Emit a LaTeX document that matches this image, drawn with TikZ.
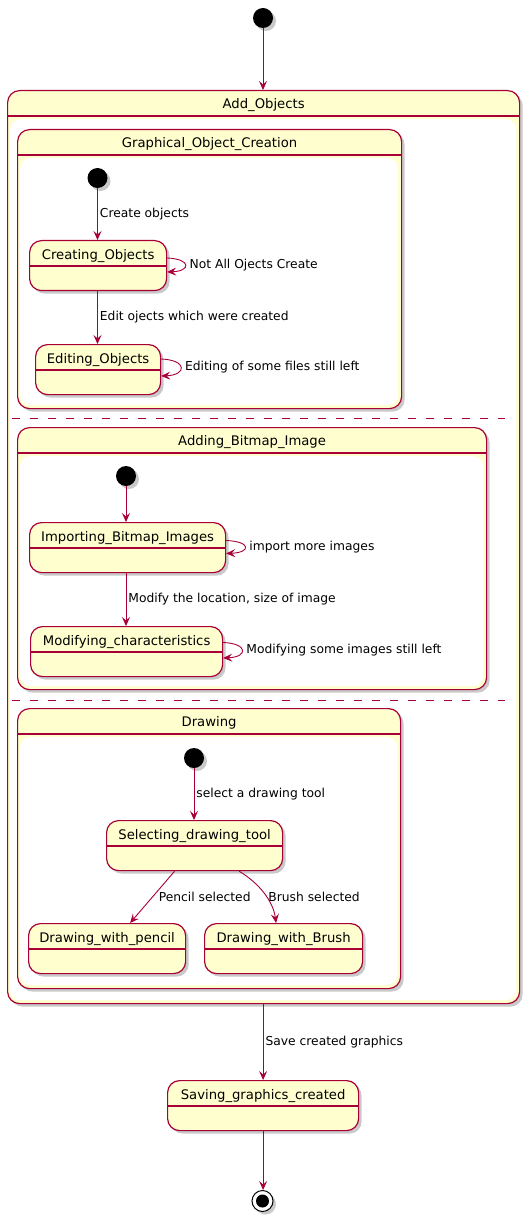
\documentclass[tikz,border=0pt]{standalone}
\usepackage{fontspec}
\setmainfont{DejaVu Sans}
\usetikzlibrary{arrows.meta,shadows}
\definecolor{bd}{HTML}{A80036}
\definecolor{sf}{HTML}{FEFECE}
\tikzset{
 shd/.style={drop shadow={shadow xshift=3pt,shadow yshift=-3pt,opacity=0.35,fill=black!60}},
 stbox/.style={draw=bd,line width=1.2pt,fill=sf,rounded corners=12pt,inner sep=0pt,minimum height=50pt,anchor=north west,shd},
 compbox/.style={draw=bd,line width=1.2pt,fill=sf,rounded corners=12pt,inner sep=0pt,anchor=north west,shd},
 bodybox/.style={fill=white,rounded corners=10pt,inner sep=0pt,anchor=north west},
 divline/.style={draw=bd,line width=1.1pt},
 sttitle/.style={font=\fontsize{13.2}{16}\selectfont,text height=10pt,text depth=3pt,inner sep=0pt},
 lab/.style={font=\fontsize{12.3}{15}\selectfont,inner sep=2pt,text=black},
 arr/.style={draw=bd,line width=0.9pt,-{Stealth[length=9pt,width=8pt,inset=3.5pt]}},
 startdot/.style={circle,fill=black,minimum size=20pt,inner sep=0pt,shd},
 dash8/.style={draw=bd,line width=1pt,dash pattern=on 8pt off 10pt},
}
\newcommand\mkstate[5]{%
 \node[stbox,minimum width=#4pt] (#1) at (#2,#3) {};
 \draw[divline] ([yshift=-26pt]#1.north west) -- ([yshift=-26pt]#1.north east);
 \node[sttitle] (#1-t) at ([yshift=-16pt]#1.north) {#5};}
\newcommand\mkcomp[6]{%
 \node[compbox,minimum width=#4pt,minimum height=#5pt] (#1) at (#2,#3) {};
 \node[bodybox,minimum width=#4pt-6pt,minimum height=#5pt-32pt] (#1-body) at (#2+3,#3+29) {};
 \draw[divline] ([yshift=-26pt]#1.north west) -- ([yshift=-26pt]#1.north east);
 \node[sttitle] (#1-t) at ([yshift=-14.8pt]#1.north) {#6};}
\begin{document}
\begin{tikzpicture}[x=1pt,y=-1pt]
\fill[white] (0,0) rectangle (530,1222);
\useasboundingbox (0,0) rectangle (530,1222);

% top start
\node[startdot] (s0) at (263,18) {};

% Add_Objects composite
\mkcomp{ao}{7}{90}{512}{913}{Add\_Objects}

% Graphical_Object_Creation
\mkcomp{goc}{17}{129}{384}{279}{Graphical\_Object\_Creation}
\node[startdot] (s1) at (97.5,178) {};
\mkstate{co}{29}{240}{137}{Creating\_Objects}
\mkstate{eo}{35}{344}{125}{Editing\_Objects}

\draw[dash8] (12,418) -- (505,418);

% Adding_Bitmap_Image
\mkcomp{abi}{17}{427}{469}{262}{Adding\_Bitmap\_Image}
\node[startdot] (s2) at (126,476) {};
\mkstate{ib}{29}{522}{196}{Importing\_Bitmap\_Images}
\mkstate{mc}{30}{626}{192}{Modifying\_characteristics}

\draw[dash8] (12,700) -- (505,700);

% Drawing
\mkcomp{dr}{17}{708}{383}{280}{Drawing}
\node[startdot] (s3) at (194,758) {};
\mkstate{sdt}{106}{820}{176}{Selecting\_drawing\_tool}
\mkstate{dwp}{28}{923}{157}{Drawing\_with\_pencil}
\mkstate{dwb}{204}{923}{158}{Drawing\_with\_Brush}

% Saving
\mkstate{sgc}{167}{1080}{191}{Saving\_graphics\_created}

% end
\node[circle,draw=black,line width=1pt,fill=white,minimum size=21pt,inner sep=0pt,shd] (e0) at (262.5,1201) {};
\node[circle,fill=black,minimum size=13pt,inner sep=0pt] (e0i) at (e0) {};

% connectors
\draw[arr] (s0) -- (s0 |- ao.north);
\draw[arr] (s1) -- (s1 |- co.north) node[lab,midway,anchor=west] {Create objects};
\draw[arr] ([yshift=-18pt]co.north east) .. controls +(24,1) and +(24,-1) .. ([yshift=-32pt]co.north east)
  node[lab,pos=0.5,anchor=west,xshift=2pt] {Not All Ojects Create};
\draw[arr] (s1 |- co.south) -- (s1 |- eo.north) node[lab,midway,anchor=west] {Edit ojects which were created};
\draw[arr] ([yshift=-15pt]eo.north east) .. controls +(26,1) and +(26,-1) .. ([yshift=-32pt]eo.north east)
  node[lab,pos=0.5,anchor=west,xshift=2pt] {Editing of some files still left};

\draw[arr] (s2) -- (s2 |- ib.north);
\draw[arr] ([yshift=-18.5pt]ib.north east) .. controls +(25,1) and +(25,-1) .. ([yshift=-31.5pt]ib.north east)
  node[lab,pos=0.5,anchor=west,xshift=2pt] {import more images};
\draw[arr] (s2 |- ib.south) -- (s2 |- mc.north) node[lab,midway,anchor=west] {Modify the location, size of image};
\draw[arr] ([yshift=-16.5pt]mc.north east) .. controls +(25,1) and +(25,-1) .. ([yshift=-32pt]mc.north east)
  node[lab,pos=0.5,anchor=west,xshift=2pt] {Modifying some images still left};

\draw[arr] (s3) -- (s3 |- sdt.north) node[lab,midway,anchor=west] {select a drawing tool};
\draw[arr] ([xshift=-20pt]sdt.south) -- ([xshift=23pt]dwp.north)
  node[lab,midway,anchor=west,xshift=4pt] {Pencil selected};
\draw[arr] ([xshift=44.5pt]sdt.south) .. controls +(20,12) and +(-3,-22) .. ([xshift=-7.5pt]dwb.north)
  node[lab,midway,anchor=west,xshift=2pt,yshift=-4pt] {Brush selected};

\draw[arr] (ao.south -| sgc.north) -- (sgc.north) node[lab,midway,anchor=west] {Save created graphics};
\draw[arr] (sgc.south) -- (sgc.south |- e0.north);
\end{tikzpicture}
\end{document}
